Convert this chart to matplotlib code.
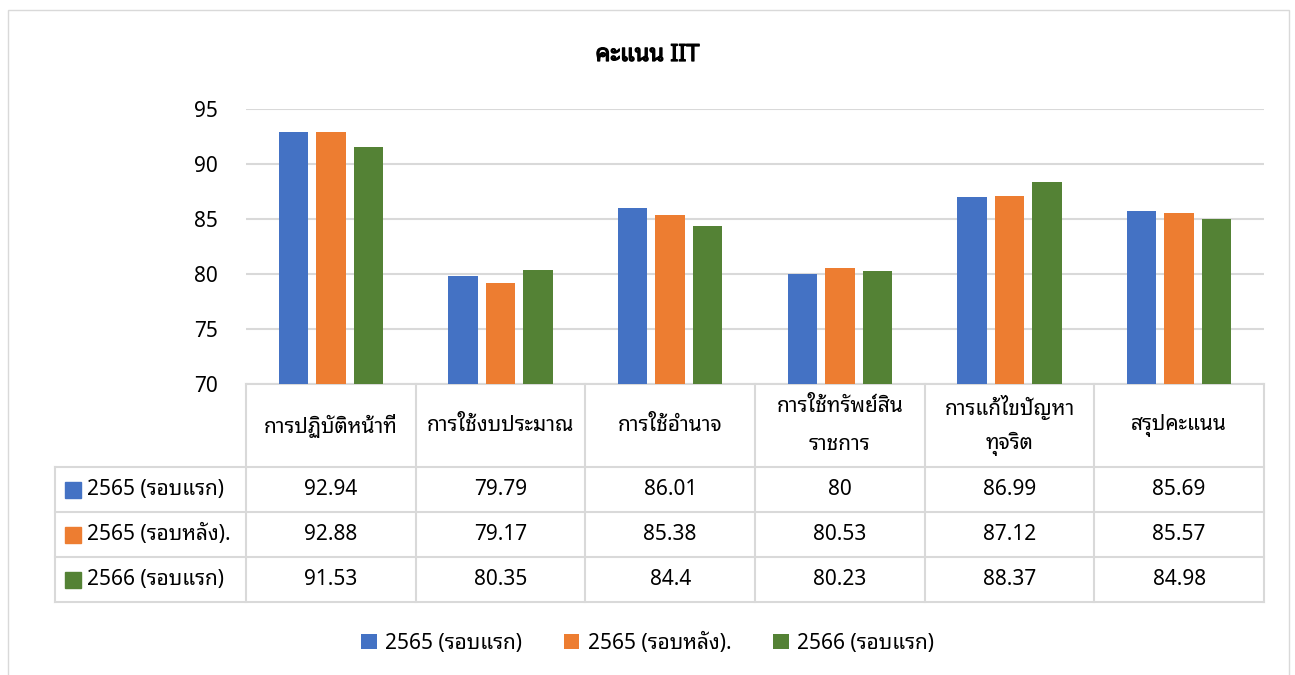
import matplotlib
matplotlib.use("Agg")
import matplotlib.pyplot as plt
import matplotlib.patheffects as pe
from matplotlib.transforms import blended_transform_factory
from matplotlib.patches import Rectangle
import numpy as np

# data
categories = ["การปฏิบัติหน้าที่", "การใช้งบประมาณ", "การใช้อำนาจ",
              "การใช้ทรัพย์สิน\nราชการ", "การแก้ไขปัญหา\nทุจริต", "สรุปคะแนน"]
series_names = ["2565 (รอบแรก)", "2565 (รอบหลัง).", "2566 (รอบแรก)"]
s2565_first = [92.94, 79.79, 86.01, 80, 86.99, 85.69]
s2565_after = [92.88, 79.17, 85.38, 80.53, 87.12, 85.57]
s2566_first = [91.53, 80.35, 84.4, 80.23, 88.37, 84.98]
values = [s2565_first, s2565_after, s2566_first]
colors = ["#4472C4", "#ED7D31", "#548235"]
yticks = [70, 75, 80, 85, 90, 95]
title = "คะแนน IIT"

plt.rcParams["font.family"] = ["Noto Sans Thai Looped", "Noto Sans", "DejaVu Sans"]
FS = 15

fig = plt.figure(figsize=(12.95, 6.75), dpi=100)
W, H = 1295, 675
ax = fig.add_axes([246 / W, 1 - 384 / H, (1264 - 246) / W, (384 - 109) / H])

x = np.arange(len(categories))
width = 0.174
step = 0.221
for i, (vals, col) in enumerate(zip(values, colors)):
    ax.bar(x + (i - 1) * step, np.array(vals) - 70, bottom=70, width=width,
           color=col, label=series_names[i], zorder=3)

ax.set_xlim(-0.5, len(categories) - 0.5)
ax.set_ylim(70, 95)
ax.set_yticks(yticks)
ax.set_yticklabels([str(t) for t in yticks], fontsize=FS)
ax.set_xticks([])
ax.tick_params(axis="y", length=0, pad=20)
ax.grid(axis="y", color="#D9D9D9", linewidth=1.5, zorder=0)
for s in ax.spines.values():
    s.set_visible(False)

# font has no bold face here, so thicken the title with a stroke
fig.text(0.5, 1 - 55 / H, title, ha="center", va="center", fontsize=17,
         fontweight="bold",
         path_effects=[pe.withStroke(linewidth=0.9, foreground="black")])

# data table under the axes
tr = blended_transform_factory(ax.transData, fig.transFigure)
line_kw = dict(color="#D9D9D9", linewidth=1.5, transform=tr, clip_on=False)
left = -0.5 - (246 - 55) / ((1264 - 246) / len(categories))
right = len(categories) - 0.5
ys = [384, 467, 512, 557, 602]
yf = [1 - v / H for v in ys]

ax.plot([-0.5, right], [yf[0], yf[0]], **line_kw)
for yy in yf[1:]:
    ax.plot([left, right], [yy, yy], **line_kw)
for xx in np.arange(-0.5, right + 0.1, 1.0):
    ax.plot([xx, xx], [yf[0], yf[-1]], **line_kw)
ax.plot([left, left], [yf[1], yf[-1]], **line_kw)

for j, cat in enumerate(categories):
    lines = cat.split("\n")
    for k, ln in enumerate(lines):
        off = (k - (len(lines) - 1) / 2) * 37 / H
        ax.text(j, (yf[0] + yf[1]) / 2 - off, ln, ha="center", va="center",
                fontsize=FS, transform=tr)
for i, vals in enumerate(values):
    yc = (yf[i + 1] + yf[i + 2]) / 2
    for j, v in enumerate(vals):
        ax.text(j, yc, f"{v:g}", ha="center", va="center", fontsize=FS,
                transform=tr)
    fig.patches.append(Rectangle((65 / W, yc - 8 / H), 16 / W, 16 / H,
                                 color=colors[i], transform=fig.transFigure))
    fig.text(87 / W, yc, series_names[i], ha="left", va="center", fontsize=FS)

fig.legend(loc="center", bbox_to_anchor=(0.5, 1 - 643 / H), ncol=3,
           frameon=False, fontsize=FS, handlelength=0.75, handleheight=0.75,
           columnspacing=2.0, handletextpad=0.4)

# outer chart border
fig.patches.append(Rectangle((8 / W, -0.1), (1289 - 8) / W, 1.1 - 10 / H,
                             fill=False, edgecolor="#D9D9D9", linewidth=1,
                             transform=fig.transFigure))

fig.savefig("out.png", dpi=100, facecolor="white")
